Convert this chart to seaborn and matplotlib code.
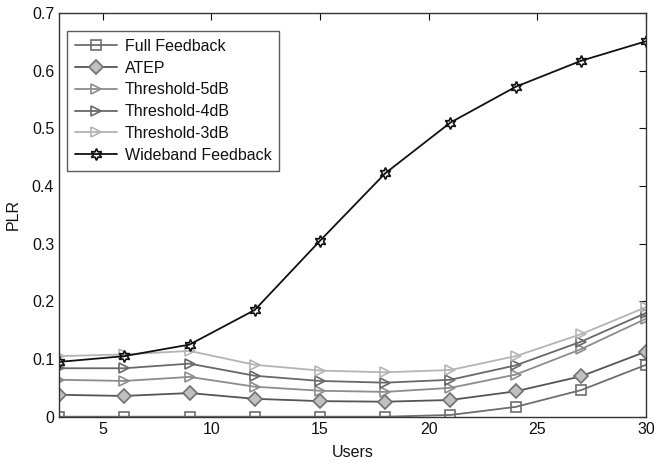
import numpy as np
import pandas as pd
import matplotlib
matplotlib.use("Agg")
import matplotlib.pyplot as plt
import seaborn as sns

users = [3, 6, 9, 12, 15, 18, 21, 24, 27, 30]
full_feedback = [0.0, 0.0, 0.0, 0.0, 0.0, 0.0, 0.003, 0.017, 0.046, 0.090]
atep = [0.038, 0.036, 0.041, 0.031, 0.027, 0.026, 0.029, 0.044, 0.070, 0.113]
thr5 = [0.064, 0.062, 0.069, 0.052, 0.045, 0.043, 0.050, 0.073, 0.117, 0.170]
thr4 = [0.084, 0.084, 0.092, 0.071, 0.062, 0.059, 0.064, 0.089, 0.130, 0.180]
thr3 = [0.105, 0.108, 0.114, 0.090, 0.080, 0.077, 0.081, 0.105, 0.143, 0.190]
wideband = [0.095, 0.105, 0.125, 0.185, 0.305, 0.422, 0.510, 0.572, 0.617, 0.651]

names = ["Full Feedback", "ATEP", "Threshold-5dB", "Threshold-4dB", "Threshold-3dB", "Wideband Feedback"]
series = [full_feedback, atep, thr5, thr4, thr3, wideband]

sns.set_style("white")
plt.rcParams['font.family'] = ['Liberation Sans', 'DejaVu Sans']

styles = {
    "Full Feedback": dict(color="#6e6e6e", marker="s", mfc="none", mec="#6e6e6e", ms=7.5),
    "ATEP": dict(color="#555555", marker="D", mfc="#c0c0c0", mec="#707070", ms=7.5),
    "Threshold-5dB": dict(color="#8c8c8c", marker=">", mfc="none", mec="#8c8c8c", ms=7.5),
    "Threshold-4dB": dict(color="#686868", marker=">", mfc="none", mec="#686868", ms=7.5),
    "Threshold-3dB": dict(color="#b4b4b4", marker=">", mfc="none", mec="#b4b4b4", ms=7.5),
    "Wideband Feedback": dict(color="#111111", marker=(6, 1, 0), mfc="none", mec="#111111", ms=8.5),
}

fig = plt.figure(figsize=(6.56, 4.63), dpi=100)
ax = fig.add_axes([0.09, 0.10, 0.895, 0.872])

for name, vals in zip(names, series):
    st = styles[name]
    df = pd.DataFrame({"Users": users, "PLR": vals})
    sns.lineplot(data=df, x="Users", y="PLR", ax=ax, color=st["color"], marker=st["marker"],
                 markersize=st["ms"], markerfacecolor=st["mfc"], markeredgecolor=st["mec"],
                 markeredgewidth=1.2, linewidth=1.3, label=name)

ax.set_xlim(3, 30)
ax.set_ylim(0, 0.7)
ax.set_xticks([5, 10, 15, 20, 25, 30])
ax.set_yticks([0, 0.1, 0.2, 0.3, 0.4, 0.5, 0.6, 0.7])
ax.set_yticklabels(["0", "0.1", "0.2", "0.3", "0.4", "0.5", "0.6", "0.7"])
ax.tick_params(direction="in", top=True, right=True, length=5, labelsize=11.5, colors="#111111")
for s in ax.spines.values():
    s.set_color("#333333")
    s.set_linewidth(1.0)
ax.set_xlabel("Users", fontsize=11.5, labelpad=6, color="#111111")
ax.set_ylabel("PLR", fontsize=11.5, labelpad=8, color="#111111")

leg = ax.legend(loc="upper left", bbox_to_anchor=(0.0, 0.975), fontsize=11.5, frameon=True,
                fancybox=False, edgecolor="#333333", handlelength=2.6, labelspacing=0.42,
                borderpad=0.5, handletextpad=0.5)
leg.get_frame().set_linewidth(1.0)
for t in leg.get_texts():
    t.set_color("#111111")

fig.savefig("out.png", dpi=100)
